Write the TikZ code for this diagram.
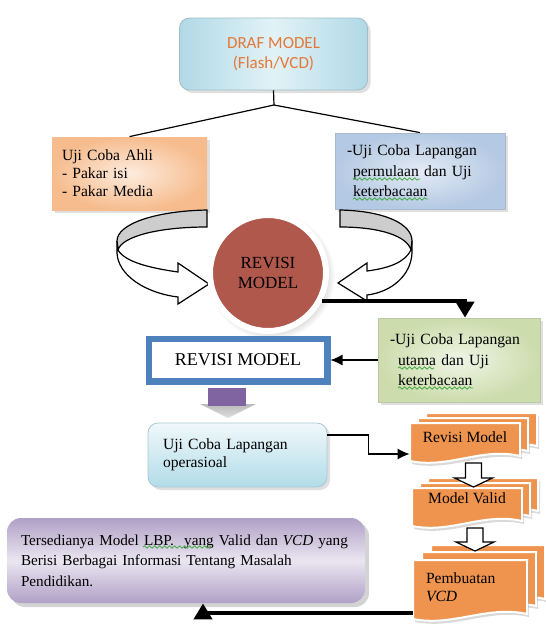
\documentclass[tikz,border=0pt]{standalone}
\usepackage{fontspec}
\setmainfont{Liberation Serif}
\newfontfamily\calibri{Carlito}
\usepackage{xcolor}
\usetikzlibrary{positioning, arrows.meta, shadows, decorations.pathmorphing}

\definecolor{drafA}{RGB}{176,217,230}
\definecolor{drafB}{RGB}{226,242,247}
\definecolor{drafor}{RGB}{228,120,56}
\definecolor{ahliA}{RGB}{246,188,142}
\definecolor{ahliB}{RGB}{253,236,222}
\definecolor{lapA}{RGB}{180,201,227}
\definecolor{lapB}{RGB}{228,235,245}
\definecolor{circfill}{RGB}{176,88,76}
\definecolor{greenA}{RGB}{204,220,172}
\definecolor{greenB}{RGB}{240,245,230}
\definecolor{rmblue}{RGB}{79,129,189}
\definecolor{purp}{RGB}{128,100,162}
\definecolor{oprA}{RGB}{178,220,232}
\definecolor{oprB}{RGB}{240,248,251}
\definecolor{docor}{RGB}{239,148,78}
\definecolor{hasA}{RGB}{176,160,198}
\definecolor{hasB}{RGB}{234,230,241}
\definecolor{bandgray}{RGB}{205,205,205}
\definecolor{spellgreen}{RGB}{70,170,70}

% one sheet of a stacked document, x1 y1 x2 y2 in pixels
\newcommand{\docsheet}[4]{%
  \filldraw[sheet] (#1,#2) -- (#3,#2) -- (#3,#4-7)
    .. controls ({#3-0.35*(#3-#1)},#4-16) and ({#1+0.35*(#3-#1)},#4+6) .. (#1,#4-2) -- cycle;}
% white block arrow pointing down: x centre, y top, y tip
\newcommand{\blockdown}[3]{%
  \filldraw[blockarr] (#1-8,#2) -- (#1+8,#2) -- (#1+8,#3-9) -- (#1+19,#3-9)
    -- (#1,#3) -- (#1-19,#3-9) -- (#1-8,#3-9) -- cycle;}

\begin{document}
\begin{tikzpicture}[
    x=0.5pt, y=-0.5pt,
    >=latex,
    body/.style={font=\fontsize{7.6}{9.2}\selectfont},
    widebody/.style={font=\fontsize{7.8}{10.25}\selectfont},
    softshadow/.style={drop shadow={opacity=0.25, shadow xshift=1.5pt, shadow yshift=-1.5pt}},
    drafbox/.style={draw=drafA!70!gray, rounded corners=5pt, minimum width=94pt, minimum height=36pt,
        left color=drafA, right color=drafA, middle color=drafB, softshadow, align=center,
        font=\calibri\fontsize{8.5}{10}\selectfont, text=drafor},
    ahlibox/.style={widebody, font=\fontsize{7.8}{9}\selectfont, inner color=ahliB, outer color=ahliA,
        softshadow, align=left, text width=67.5pt, inner xsep=5pt, minimum height=36.5pt},
    lapbox/.style={widebody, draw=lapA!80!gray, inner color=lapB, outer color=lapA, softshadow, align=left,
        text width=73pt, inner xsep=6pt, minimum height=38pt},
    circ/.style={circle, draw=white, line width=3pt, fill=circfill, minimum size=58pt,
        circular drop shadow={opacity=0.3}, align=center, font=\fontsize{8.5}{10}\selectfont},
    greenbox/.style={widebody, draw=greenA!80!gray, inner color=greenB, outer color=greenA, softshadow,
        align=left, text width=69pt, inner xsep=6pt, minimum height=42pt},
    revbox/.style={draw=rmblue, line width=2.5pt, fill=white, minimum width=90pt, minimum height=22pt,
        font=\fontsize{9}{11}\selectfont},
    oprbox/.style={widebody, font=\fontsize{7.8}{9}\selectfont, draw=oprA!80!gray, rounded corners=5pt,
        top color=oprB, bottom color=oprA, softshadow, align=left, text width=74.5pt, inner xsep=7.5pt,
        minimum height=32pt},
    hasilbox/.style={body, font=\fontsize{7.6}{10.25}\selectfont, rounded corners=7pt, top color=hasA,
        bottom color=hasA, middle color=hasB, drop shadow={opacity=0.35, shadow xshift=2pt, shadow yshift=-2pt},
        align=left, text width=165pt, inner xsep=7pt, minimum height=42.5pt},
    sheet/.style={fill=docor, draw=white, line width=1pt,
        drop shadow={opacity=0.3, shadow xshift=1pt, shadow yshift=-1.5pt}},
    doctext/.style={widebody, inner sep=0pt, minimum height=20pt},
    blockarr/.style={fill=white, draw=black, line width=0.6pt},
    thin/.style={draw=black, line width=0.6pt},
    spellwave/.style={spellgreen, line width=0.4pt, decorate,
        decoration={snake, segment length=2.5pt, amplitude=0.6pt}},
    smallarrow/.style={-{Latex[length=6pt,width=5.5pt]}, line width=0.6pt},
    bigarrow/.style={-{Triangle[length=8pt,width=9pt]}, line width=2pt}
]
    \useasboundingbox (0,0) rectangle (546,628);

    % top of the tree
    \node[drafbox] (draf) at (273.5,54) {DRAF MODEL\\(Flash/VCD)};
    \coordinate (split) at (274,105);
    \node[ahlibox] (ahli) at (129.5,173.5) {Uji Coba Ahli\\- Pakar isi\\- Pakar Media};
    \node[lapbox] (lappem) at (420,171)
        {-Uji Coba Lapangan\\\hspace*{3pt}permulaan dan Uji\\\hspace*{3pt}keterbacaan};
    \draw[thin] (draf.south) -- (split);
    \draw[thin] (split) -- (ahli.north);
    \draw[thin] (split) -- (lappem.north);

    % curved arrows round the circle
    \filldraw[thin, fill=bandgray] (207,210) .. controls (155,211) and (117,224) .. (117,241)
        -- (118,250) .. controls (122,236) and (160,227) .. (207,227) -- cycle;
    \filldraw[thin, fill=white] (117,241) -- (117,253) .. controls (118,275) and (145,293) .. (178,297)
        -- (178,304) -- (209,284) -- (178,263) -- (178,272)
        .. controls (150,268) and (125,262) .. (118,250) -- cycle;
    \filldraw[thin, fill=bandgray] (340,210) .. controls (385,211) and (412,224) .. (412,241)
        -- (411,250) .. controls (407,236) and (380,227) .. (340,227) -- cycle;
    \filldraw[thin, fill=white] (412,241) -- (412,253) .. controls (411,275) and (392,292) .. (367,295)
        -- (367,301) -- (338,283) -- (367,263) -- (367,271)
        .. controls (390,268) and (405,262) .. (411,250) -- cycle;

    \node[circ] (revcirc) at (268,273) {REVISI\\MODEL};

    % second row
    \node[greenbox] (lapuji) at (459,360)
        {-Uji Coba Lapangan\\\hspace*{4pt}utama dan Uji\\\hspace*{4pt}keterbacaan};
    \node[revbox] (revisi) at (238,360) {REVISI MODEL};
    \draw[rmblue, line width=0.7pt] ([shift={(2.8pt,-2.8pt)}]revisi.north west)
        rectangle ([shift={(-2.8pt,2.8pt)}]revisi.south east);
    \draw[bigarrow] (revcirc.-27) -| ([xshift=3pt]lapuji.north);
    \draw[smallarrow] (lapuji.west) -- (revisi.east);

    % block arrow under the double box
    \shade[top color=gray!55, bottom color=gray!25] (200,404) -- (256,404) -- (228,418) -- cycle;
    \fill[purp] (208,388) rectangle (246,406);

    \node[oprbox] (opr) at (237.5,455) {Uji Coba Lapangan\\operasioal};

    % stacked documents
    \docsheet{426}{413}{537}{453}
    \docsheet{418}{418}{528}{458}
    \docsheet{410}{423}{520}{463}
    \docsheet{428}{478}{538}{518}
    \docsheet{420}{483}{530}{523}
    \docsheet{412}{488}{522}{528}
    \docsheet{431}{545}{545}{606}
    \docsheet{422}{552}{536}{613}
    \docsheet{413}{560}{527}{621}
    \node[doctext, minimum width=55pt] (dokrev) at (465,437) {Revisi Model};
    \node[doctext, minimum width=55pt] (dokval) at (467,498) {Model Valid};
    \node[doctext, font=\fontsize{7.8}{9}\selectfont, text width=44pt, inner xsep=6.5pt, align=left]
        (dokvcd) at (470,587) {Pembuatan\\\textit{VCD}};
    \blockdown{473.5}{463}{487}
    \blockdown{475}{528}{551}

    \draw[smallarrow] ([yshift=10pt]opr.east) -- ++(20.5pt,0) |- ([yshift=-8.5pt]dokrev.west);

    % result
    \node[hasilbox] (hasil) at (186,560.5)
        {Tersedianya Model LBP.\ \ yang Valid dan \textit{VCD} yang\\Berisi Berbagai Informasi Tentang Masalah\\Pendidikan.};
    \draw[bigarrow] ([yshift=-13pt]dokvcd.west) -| ([xshift=8.5pt]hasil.south);

    % spelling marks
    \draw[spellwave] (353,179) -- (420,179);
    \draw[spellwave] (353,199) -- (428,199);
    \draw[spellwave] (398,368) -- (434,368);
    \draw[spellwave] (398,388) -- (473,388);
    \draw[spellwave] (143,547) -- (212,547);
\end{tikzpicture}
\end{document}
